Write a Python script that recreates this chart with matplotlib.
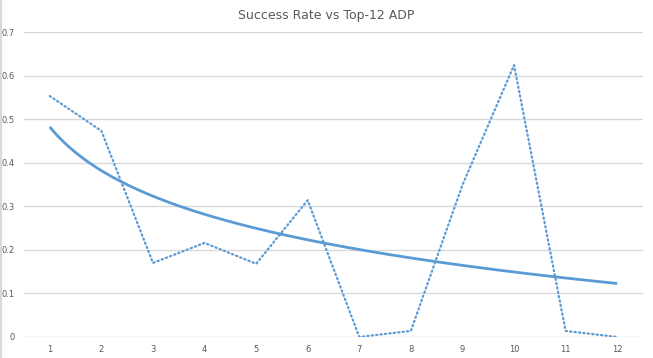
import numpy as np
import matplotlib.pyplot as plt
from matplotlib.lines import Line2D

# Данные: место в ADP и доля успехов
adp = np.arange(1, 13)
success = [0.553, 0.473, 0.170, 0.216, 0.168, 0.314, 0.0, 0.014, 0.349, 0.624, 0.014, 0.0]
y_ticks = [0, 0.1, 0.2, 0.3, 0.4, 0.5, 0.6, 0.7]

# Логарифмическая линия тренда (как в Excel)
b, a = np.polyfit(np.log(adp), success, 1)
x_trend = np.linspace(1, 12, 200)
y_trend = a + b * np.log(x_trend)

fig = plt.figure(figsize=(6.53, 3.58), dpi=100)
ax = fig.add_axes([24 / 653, 1 - 337 / 358, 619 / 653, 305 / 358])

blue = '#5b9bd5'
ax.plot(adp, success, color=blue, lw=1.6, linestyle=(0, (0.6, 1.4)), dash_capstyle='round')
ax.plot(x_trend, y_trend, color=blue, lw=2.0, solid_capstyle='butt')

ax.set_xlim(0.5, 12.5)
ax.set_ylim(0, 0.7)
ax.set_xticks(adp)
ax.set_xticklabels([str(i) for i in adp])
ax.set_yticks(y_ticks)
ax.set_yticklabels(['0'] + [str(t) for t in y_ticks[1:]])
ax.grid(axis='y', color='#d9d9d9', lw=1)
ax.set_axisbelow(True)
for s in ax.spines.values():
    s.set_visible(False)
ax.tick_params(length=0, labelsize=6, colors='#595959', pad=6)
ax.tick_params(axis='y', pad=7)

fig.text(0.5, 1 - 15 / 358, 'Success Rate vs Top-12 ADP', ha='center', va='center',
         fontsize=9, color='#595959')

# Серая рамка только слева, как на скриншоте
fig.add_artist(Line2D([0.001, 0.001], [0, 1], transform=fig.transFigure,
                      color='#d9d9d9', lw=1.5))

fig.savefig('out.png', dpi=100)
